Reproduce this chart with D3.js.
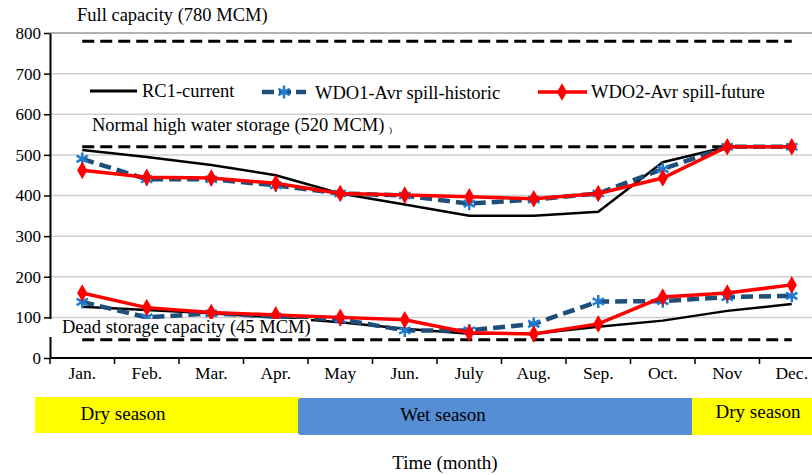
<!DOCTYPE html>
<html>
<head>
<meta charset="utf-8">
<script src="https://cdn.jsdelivr.net/npm/d3@7"></script>
<style>
  body { margin: 0; background: #fff; }
  svg { display: block; font-family: "Liberation Serif", "DejaVu Serif", serif; }
</style>
</head>
<body>
<svg id="chart" width="812" height="475"></svg>
<script>
// data (MCM)
const months = ["Jan.", "Feb.", "Mar.", "Apr.", "May", "Jun.", "July", "Aug.", "Sep.", "Oct.", "Nov", "Dec."];

const rc1Upper  = [512, 495, 475, 450, 405, 378, 350, 350, 360, 482, 520, 520];
const wdo1Upper = [490, 440, 440, 425, 405, 400, 380, 390, 405, 465, 520, 520];
const wdo2Upper = [462, 445, 443, 430, 405, 401, 397, 392, 405, 443, 520, 520];

const rc1Lower  = [126, 118, 110, 100, 88, 72, 60, 60, 77, 92, 116, 133];
const wdo1Lower = [138, 100, 110, 102, 95, 68, 68, 84, 139, 140, 150, 153];
const wdo2Lower = [160, 124, 112, 106, 100, 94, 62, 59, 84, 150, 160, 180];

const refLevels = [780, 520, 45];
const yTicks = [0, 100, 200, 300, 400, 500, 600, 700, 800];

const seasons = ["Dry season", "Wet season", "Dry season"];

const svg = d3.select("#chart");

const x = d3.scaleBand().domain(months).range([50, 824]).padding(0);
const y = d3.scaleLinear().domain([0, 800]).range([358, 33]);
const cx = m => x(m) + x.bandwidth() / 2;

// gridlines
svg.append("g")
  .selectAll("line")
  .data(yTicks.filter(d => d > 0))
  .join("line")
  .attr("x1", 50).attr("x2", 812)
  .attr("y1", d => y(d)).attr("y2", d => y(d))
  .attr("stroke", d => d === 800 ? "#999" : "#cfcfcf")
  .attr("stroke-width", 1.5);

// y axis
svg.append("g")
  .attr("transform", "translate(50,0)")
  .call(d3.axisLeft(y).tickValues(yTicks).tickSize(6).tickSizeOuter(0))
  .call(g => g.select(".domain").attr("stroke", "#000").attr("stroke-width", 2))
  .call(g => g.selectAll(".tick line").attr("stroke", "#000").attr("stroke-width", 1.5))
  .call(g => g.selectAll("text").attr("font-size", 17).attr("font-family", "Liberation Serif").attr("fill", "#000").attr("x", -9));

// reference levels (dashed)
refLevels.forEach(v => {
  svg.append("path")
    .datum(months)
    .attr("d", d3.line().x(m => cx(m)).y(() => y(v)))
    .attr("fill", "none")
    .attr("stroke", "#000")
    .attr("stroke-width", 3)
    .attr("stroke-dasharray", "12,6");
});

// series
const line = d3.line().x((d, i) => cx(months[i])).y(d => y(d));

function asterisk(g, px, py, r, color) {
  const p = d3.path();
  for (let k = 0; k < 3; k++) {
    const a = Math.PI / 2 + k * Math.PI / 3;
    p.moveTo(px + r * Math.cos(a), py + r * Math.sin(a));
    p.lineTo(px - r * Math.cos(a), py - r * Math.sin(a));
  }
  g.append("path").attr("d", p.toString())
    .attr("stroke", color).attr("stroke-width", 2.5).attr("fill", "none");
}

function drawRC1(vals) {
  svg.append("path").datum(vals)
    .attr("d", line).attr("fill", "none")
    .attr("stroke", "#000").attr("stroke-width", 2.5);
}

function drawWDO1(vals) {
  svg.append("path").datum(vals)
    .attr("d", line).attr("fill", "none")
    .attr("stroke", "#1f4e79").attr("stroke-width", 4.5)
    .attr("stroke-dasharray", "12,6");
  const g = svg.append("g");
  vals.forEach((v, i) => asterisk(g, cx(months[i]), y(v), 6.5, "#1e7bd0"));
}

const diamond = d3.symbol().type(d3.symbolDiamond).size(90);

function drawWDO2(vals) {
  svg.append("path").datum(vals)
    .attr("d", line).attr("fill", "none")
    .attr("stroke", "#ff0000").attr("stroke-width", 3.5);
  svg.append("g").selectAll("path")
    .data(vals)
    .join("path")
    .attr("transform", (d, i) => `translate(${cx(months[i])},${y(d)})`)
    .attr("d", diamond)
    .attr("fill", "#ff0000");
}

drawRC1(rc1Upper);
drawRC1(rc1Lower);
drawWDO1(wdo1Upper);
drawWDO1(wdo1Lower);
drawWDO2(wdo2Upper);
drawWDO2(wdo2Lower);

// white box behind dead storage label (sits over the lines, like the original)
svg.append("rect")
  .attr("x", 48).attr("y", 319).attr("width", 263).attr("height", 18)
  .attr("fill", "#fff");

// x axis
svg.append("line")
  .attr("x1", 50).attr("x2", 812).attr("y1", y(0)).attr("y2", y(0))
  .attr("stroke", "#000").attr("stroke-width", 2);
svg.append("g").selectAll("line")
  .data(months)
  .join("line")
  .attr("x1", d => x(d)).attr("x2", d => x(d))
  .attr("y1", y(0)).attr("y2", y(0) + 6)
  .attr("stroke", "#000").attr("stroke-width", 1.5);
svg.append("g").selectAll("text")
  .data(months)
  .join("text")
  .attr("x", d => cx(d))
  .attr("y", 379)
  .attr("text-anchor", "middle")
  .attr("font-size", 17.5)
  .text(d => d);

// annotations
svg.append("text").attr("x", 77).attr("y", 21).attr("font-size", 18.5).text("Full capacity (780 MCM)");
svg.append("text").attr("x", 92).attr("y", 131).attr("font-size", 18.5).text("Normal high water storage (520 MCM)");
svg.append("text").attr("x", 389).attr("y", 133).attr("font-size", 9).text(")");
svg.append("text").attr("x", 62).attr("y", 333).attr("font-size", 18.5).text("Dead storage capacity (45 MCM)");

// legend
const legend = svg.append("g").attr("font-size", 18.5);
legend.append("line").attr("x1", 90).attr("x2", 137).attr("y1", 91).attr("y2", 91)
  .attr("stroke", "#000").attr("stroke-width", 3);
legend.append("text").attr("x", 142).attr("y", 97).text("RC1-current");
legend.append("line").attr("x1", 262).attr("x2", 306).attr("y1", 92).attr("y2", 92)
  .attr("stroke", "#1f4e79").attr("stroke-width", 4.5).attr("stroke-dasharray", "12,5");
asterisk(legend, 284, 92, 6.5, "#1e7bd0");
legend.append("text").attr("x", 315).attr("y", 99).text("WDO1-Avr spill-historic");
legend.append("line").attr("x1", 538).attr("x2", 587).attr("y1", 92).attr("y2", 92)
  .attr("stroke", "#ff0000").attr("stroke-width", 3.5);
legend.append("path").attr("transform", "translate(562,92)").attr("d", diamond).attr("fill", "#ff0000");
legend.append("text").attr("x", 591).attr("y", 98).text("WDO2-Avr spill-future");

// season bands
const seasonFill = ["#ffff00", "#558ed5", "#ffff00"];
const seasonRects = [
  { x0: 35, x1: 300, y0: 397, y1: 433 },
  { x0: 298, x1: 700, y0: 398, y1: 435 },
  { x0: 692, x1: 812, y0: 398, y1: 435 }
];
const seasonText = [
  { x: 123, y: 420 },
  { x: 443, y: 421 },
  { x: 758, y: 418 }
];
seasons.forEach((s, i) => {
  const r = seasonRects[i];
  svg.append("rect")
    .attr("x", r.x0).attr("y", r.y0)
    .attr("width", r.x1 - r.x0).attr("height", r.y1 - r.y0)
    .attr("rx", i === 1 ? 3 : 0)
    .attr("fill", seasonFill[i]);
});
seasons.forEach((s, i) => {
  svg.append("text")
    .attr("x", seasonText[i].x).attr("y", seasonText[i].y)
    .attr("text-anchor", "middle").attr("font-size", 19)
    .text(s);
});

// x title
svg.append("text").attr("x", 445).attr("y", 469).attr("text-anchor", "middle")
  .attr("font-size", 19).text("Time (month)");
</script>
</body>
</html>
